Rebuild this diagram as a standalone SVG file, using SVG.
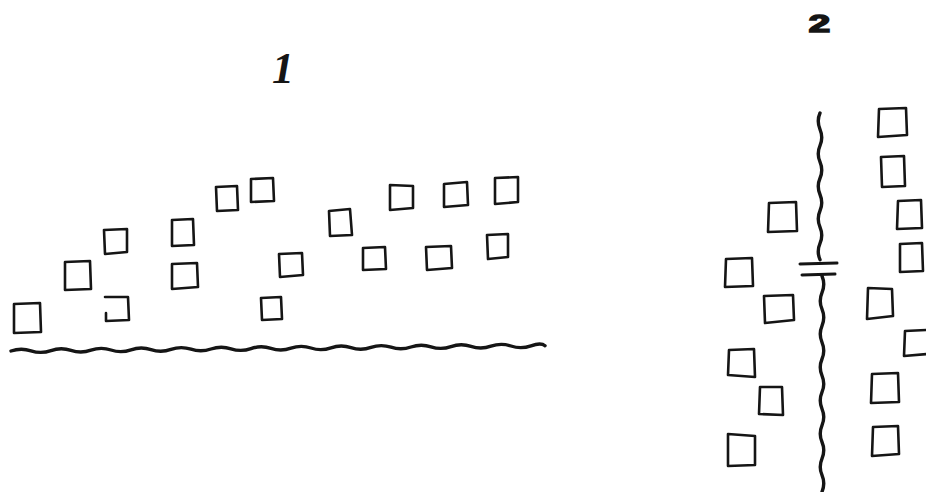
<svg xmlns="http://www.w3.org/2000/svg" width="926" height="492" viewBox="0 0 926 492">
<style>
.sq{fill:none;stroke:#151515;stroke-width:2.6;stroke-linejoin:round;stroke-linecap:round}
.wave{fill:none;stroke:#151515;stroke-width:3.4;stroke-linecap:round;stroke-linejoin:round}
.bar{fill:none;stroke:#151515;stroke-width:3;stroke-linecap:round}
.lbl{font-family:"Liberation Serif",serif;fill:#151515}
</style>
<rect width="926" height="492" fill="#ffffff"/>
<g id="label-1"><text class="lbl" x="283" y="83" font-size="44" font-style="italic" font-weight="bold" text-anchor="middle">1</text></g>
<g id="label-2"><text class="lbl" transform="translate(819.5,32) scale(1.6,1)" font-size="24" font-weight="bold" text-anchor="middle" stroke="#151515" stroke-width="1.6" style="font-family:'Liberation Sans',sans-serif">2</text></g>
<g id="boundaries">
<path class="wave" d="M11,351 q10,-3.5 20,-0.2 t20,-0.2 t20,-0.2 t20,-0.2 t20,-0.2 t20,-0.2 t20,-0.2 t20,-0.2 t20,-0.2 t20,-0.2 t20,-0.2 t20,-0.2 t20,-0.2 t20,-0.2 t20,-0.2 t20,-0.2 t20,-0.2 t20,-0.2 t20,-0.2 t20,-0.2 t20,-0.2 t20,-0.2 t20,-0.2 t20,-0.2 t20,-0.2 t20,-0.2 t14,-0.1"/>
<path class="wave" d="M820,113 q-3.5,8 0,16.3 t0,16.3 t0,16.3 t0,16.3 t0,16.3 t0,16.3 t0,16.3 t0,16.3 t0,16.3"/>
<path class="bar" d="M800,264 L837,263"/>
<path class="bar" d="M802,275 L835,274"/>
<path class="wave" d="M822,276 q3.5,8.3 0,16.6 t0,16.6 t0,16.6 t0,16.6 t0,16.6 t0,16.6 t0,16.6 t0,16.6 t0,16.6 t0,16.6 t0,16.6 t0,16.6 t0,16.6"/>
</g>
<g id="group-1">
<path id="sq-a" class="sq" d="M14,304 L40,303 L41,332 L14,333 Z"/>
<path id="sq-b" class="sq" d="M65,262 L90,261 L91,289 L65,290 Z"/>
<path id="sq-c" class="sq" d="M104,230 L127,229 L127,252 L105,254 Z"/>
<path id="sq-d" class="sq" d="M105,297 L128,297 L129,320 L106,321 L106,313"/>
<path id="sq-e" class="sq" d="M172,220 L193,219 L194,245 L172,246 Z"/>
<path id="sq-f" class="sq" d="M172,264 L197,263 L198,287 L172,289 Z"/>
<path id="sq-g" class="sq" d="M216,187 L237,186 L238,210 L217,211 Z"/>
<path id="sq-h" class="sq" d="M251,179 L273,178 L274,201 L251,202 Z"/>
<path id="sq-i" class="sq" d="M261,298 L281,297 L282,319 L262,320 Z"/>
<path id="sq-j" class="sq" d="M329,211 L350,209 L352,235 L330,236 Z"/>
<path id="sq-k" class="sq" d="M279,254 L302,253 L303,275 L280,277 Z"/>
<path id="sq-l" class="sq" d="M390,185 L413,186 L413,208 L390,210 Z"/>
<path id="sq-m" class="sq" d="M444,184 L467,182 L468,205 L444,207 Z"/>
<path id="sq-n" class="sq" d="M495,178 L518,177 L518,202 L495,204 Z"/>
<path id="sq-o" class="sq" d="M363,248 L385,247 L386,269 L363,270 Z"/>
<path id="sq-p" class="sq" d="M426,247 L451,246 L452,268 L427,270 Z"/>
<path id="sq-q" class="sq" d="M487,235 L508,234 L508,257 L488,259 Z"/>
</g>
<g id="group-2">
<path id="sq-r" class="sq" d="M879,109 L906,108 L907,135 L878,137 Z"/>
<path id="sq-s" class="sq" d="M881,157 L904,156 L905,186 L882,187 Z"/>
<path id="sq-t" class="sq" d="M898,201 L921,200 L922,228 L897,229 Z"/>
<path id="sq-u" class="sq" d="M900,244 L922,243 L923,271 L900,272 Z"/>
<path id="sq-v" class="sq" d="M769,203 L796,202 L797,231 L768,232 Z"/>
<path id="sq-w" class="sq" d="M726,259 L752,258 L753,286 L725,287 Z"/>
<path id="sq-x" class="sq" d="M764,296 L793,295 L794,320 L765,323 Z"/>
<path id="sq-y" class="sq" d="M729,350 L754,349 L755,377 L728,375 Z"/>
<path id="sq-z" class="sq" d="M760,387 L782,387 L783,415 L759,414 Z"/>
<path id="sq-aa" class="sq" d="M728,434 L755,436 L755,465 L728,466 Z"/>
<path id="sq-ab" class="sq" d="M868,288 L892,289 L893,316 L867,319 Z"/>
<path id="sq-ac" class="sq" d="M927,330 L905,331 L904,356 L927,354"/>
<path id="sq-ad" class="sq" d="M872,374 L898,373 L899,402 L871,403 Z"/>
<path id="sq-ae" class="sq" d="M873,427 L898,426 L899,454 L872,456 Z"/>
</g>
</svg>
